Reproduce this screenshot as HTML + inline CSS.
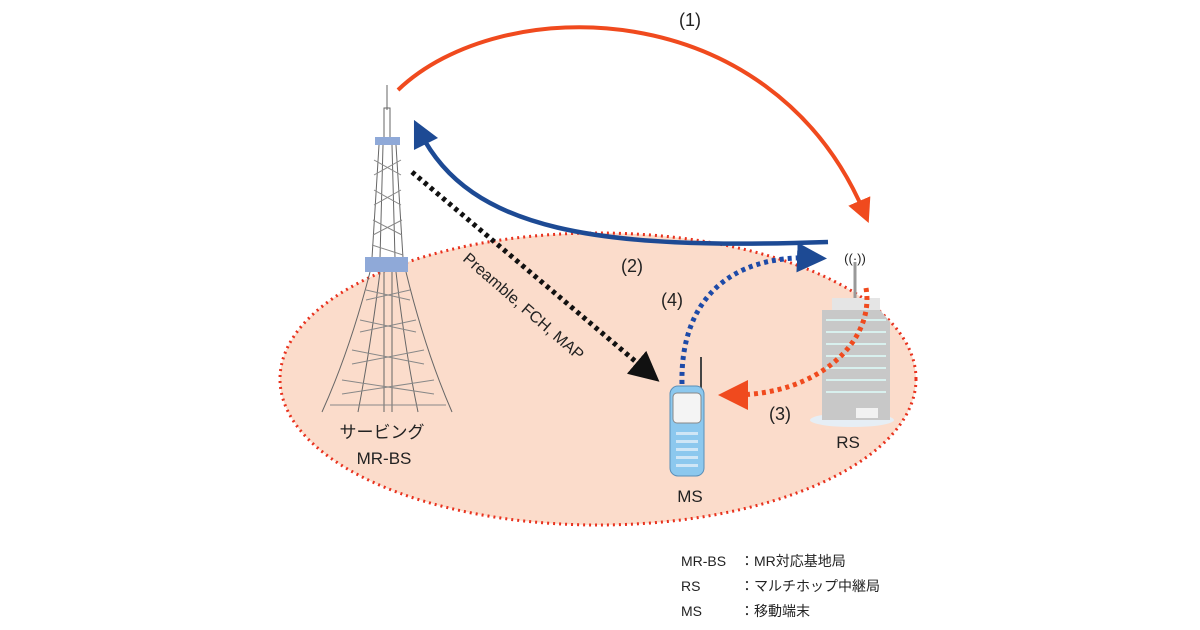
<!DOCTYPE html>
<html><head><meta charset="utf-8"><style>
html,body{margin:0;padding:0;background:#fff;}
svg{display:block;}
text{font-family:"Liberation Sans","Noto Sans CJK JP",sans-serif;fill:#222;}
</style></head><body>
<svg width="1200" height="630" viewBox="0 0 1200 630" xmlns="http://www.w3.org/2000/svg">
<defs>
<marker id="ar" markerWidth="6" markerHeight="6" refX="3" refY="3" orient="auto" markerUnits="strokeWidth"><path d="M0,0 L6,3 L0,6 Z" fill="#f04a1e"/></marker>
<marker id="ab" markerWidth="6" markerHeight="6" refX="3" refY="3" orient="auto" markerUnits="strokeWidth"><path d="M0,0 L6,3 L0,6 Z" fill="#1d4a94"/></marker>
<marker id="ak" markerWidth="6" markerHeight="6" refX="3" refY="3" orient="auto" markerUnits="strokeWidth"><path d="M0,0 L6,3 L0,6 Z" fill="#111"/></marker>
</defs>
<ellipse cx="598" cy="379" rx="318" ry="146" fill="#fbdccb" stroke="#e8321e" stroke-width="3" stroke-dasharray="2,4"/>
<g stroke="#666" stroke-width="1" fill="none">
<line x1="387" y1="85" x2="387" y2="110"/>
<rect x="384" y="108" width="6" height="30"/>
<path d="M379,145 L372,258 M396,145 L403,258 M383,145 L380,258 M392,145 L395,258"/>
<path d="M370,272 Q350,350 322,412 M406,272 Q425,350 452,412 M380,272 Q370,350 358,412 M396,272 Q405,350 418,412 M384,272 L384,412 M392,272 L392,412"/>
<path d="M374,160 L401,175 M374,175 L401,160 M374,190 L401,205 M374,205 L401,190 M373,220 L402,235 M373,235 L402,220 M372,245 L403,255" stroke="#888"/>
<path d="M366,290 L410,300 M366,300 L410,290 M360,320 L416,332 M360,332 L416,320 M352,350 L424,364 M352,364 L424,350 M342,380 L434,394 M342,394 L434,380 M330,405 L446,405" stroke="#888"/>
</g>
<rect x="375" y="137" width="25" height="8" fill="#8fa9d8"/>
<rect x="365" y="257" width="43" height="15" fill="#8fa9d8"/>
<ellipse cx="852" cy="420" rx="42" ry="7" fill="#e6eef5"/>
<line x1="855" y1="262" x2="855" y2="300" stroke="#999" stroke-width="3"/>
<rect x="832" y="298" width="48" height="12" fill="#e5e5e5"/>
<path d="M822,310 L880,310 L890,322 L890,420 L822,420 Z" fill="#c8c8c8"/>
<g stroke="#d8f0ee" stroke-width="2">
<line x1="826" y1="320" x2="886" y2="320"/><line x1="826" y1="332" x2="886" y2="332"/><line x1="826" y1="344" x2="886" y2="344"/><line x1="826" y1="356" x2="886" y2="356"/><line x1="826" y1="368" x2="886" y2="368"/><line x1="826" y1="380" x2="886" y2="380"/><line x1="826" y1="392" x2="886" y2="392"/>
</g>
<rect x="856" y="408" width="22" height="10" fill="#f2f2f2"/>
<text x="855" y="263" font-size="13" text-anchor="middle" fill="#555">((·))</text>
<line x1="701" y1="357" x2="701" y2="392" stroke="#444" stroke-width="2"/>
<rect x="670" y="386" width="34" height="90" rx="8" fill="#8cc8ee" stroke="#5a8fb8"/>
<rect x="673" y="393" width="28" height="30" rx="4" fill="#f4f4f4" stroke="#888"/>
<g fill="#cfe6f6"><rect x="676" y="432" width="22" height="3"/><rect x="676" y="440" width="22" height="3"/><rect x="676" y="448" width="22" height="3"/><rect x="676" y="456" width="22" height="3"/><rect x="676" y="464" width="22" height="3"/></g>
<path d="M398,90 C500,-8 770,-8 864,212" fill="none" stroke="#f04a1e" stroke-width="4" marker-end="url(#ar)"/>
<path d="M828,242 C600,250 470,232 420,132" fill="none" stroke="#1d4a94" stroke-width="4.5" marker-end="url(#ab)"/>
<path d="M412,172 L648,372" fill="none" stroke="#111" stroke-width="5" stroke-dasharray="4,4" marker-end="url(#ak)"/>
<path d="M682,384 C680,300 730,255 812,258" fill="none" stroke="#1d4aa8" stroke-width="5" stroke-dasharray="4,4" marker-end="url(#ab)"/>
<path d="M866,288 C875,340 820,395 733,395" fill="none" stroke="#f04a1e" stroke-width="5" stroke-dasharray="4,4" marker-end="url(#ar)"/>
<text x="690" y="26" font-size="18" text-anchor="middle">(1)</text>
<text x="632" y="272" font-size="18" text-anchor="middle">(2)</text>
<text x="672" y="306" font-size="18" text-anchor="middle">(4)</text>
<text x="780" y="420" font-size="18" text-anchor="middle">(3)</text>
<text x="462" y="260" font-size="16" transform="rotate(41 462 260)">Preamble, FCH, MAP</text>
<text x="382" y="438" font-size="17" text-anchor="middle">サービング</text>
<text x="384" y="464" font-size="17" text-anchor="middle">MR-BS</text>
<text x="848" y="448" font-size="17" text-anchor="middle">RS</text>
<text x="690" y="502" font-size="17" text-anchor="middle">MS</text>
<g font-size="14">
<text x="681" y="566">MR-BS</text><text x="740" y="566">：MR対応基地局</text>
<text x="681" y="591">RS</text><text x="740" y="591">：マルチホップ中継局</text>
<text x="681" y="616">MS</text><text x="740" y="616">：移動端末</text>
</g>
</svg>
</body></html>
